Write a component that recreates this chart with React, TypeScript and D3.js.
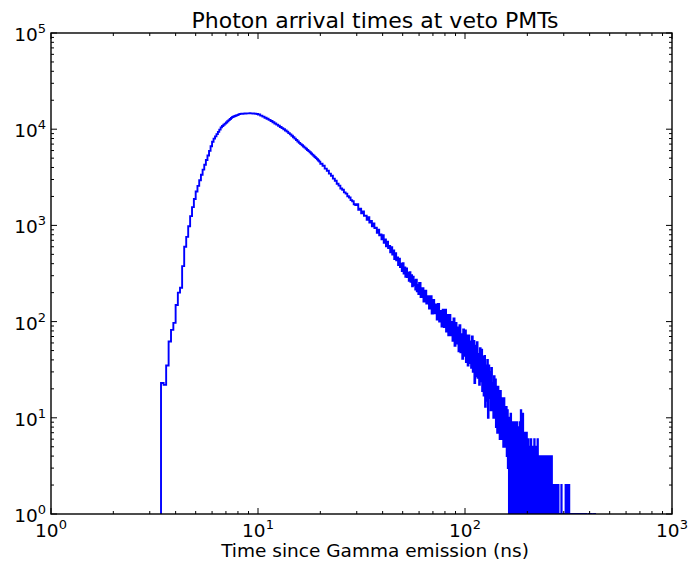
import React from 'react';
import * as d3 from 'd3';

// ---- Data (counts per bin) ----
const title = 'Photon arrival times at veto PMTs';
const xLabel = 'Time since Gamma emission (ns)';
const xTickExponents = [0, 1, 2, 3];
const yTickExponents = [0, 1, 2, 3, 4, 5];

// 3.4 – 10.0 ns, 0.1 ns bins
const fineStart = 3.4;
const fineWidth = 0.1;
const fineCounts = [
  23, 22, 35, 62, 82, 97,
  149, 200, 225, 377, 600, 760, 980, 1250, 1550, 1880,
  2249, 2573, 2950, 3365, 3800, 4265, 4788, 5335, 5950, 6640,
  7400, 7980, 8420, 8890, 9380, 9890, 10440, 10810, 11120, 11430,
  11750, 12080, 12420, 12770, 13120, 13390, 13550, 13700, 13860, 14020,
  14180, 14340, 14420, 14450, 14480, 14510, 14540, 14570, 14590, 14610,
  14620, 14630, 14620, 14600, 14580, 14550, 14520, 14480, 14440, 14400,
];

// 10 – 20 ns, 0.25 ns bins
const midStart = 10;
const midWidth = 0.25;
const midCounts = [
  14210, 13850, 13500, 13160, 12830, 12510, 12190, 11815, 11480, 11160,
  10845, 10545, 10260, 9980, 9710, 9445, 9110, 8835, 8540, 8255,
  7980, 7715, 7460, 7210, 6998, 6806, 6620, 6438, 6260, 6088,
  5921, 5758, 5598, 5444, 5295, 5149, 5007, 4868, 4735, 4605,
];

// 20 – 30 ns, 0.5 ns bins
const lateStart = 20;
const lateWidth = 0.5;
const lateCounts = [
  4380, 4170, 3890, 3700, 3455, 3285, 3060, 2915, 2710, 2590,
  2420, 2345, 2205, 2140, 2010, 1950, 1830, 1785, 1660, 1625,
];

// 30 – 60 ns, 0.5 ns bins
const noisyStart = 30;
const noisyWidth = 0.5;
const noisyCounts = [
  1665, 1455, 1490, 1332, 1396, 1260, 1265, 1143, 1219, 1071,
  1115, 976, 1048, 938, 948, 840, 901, 787, 804, 717,
  790, 660, 715, 605, 678, 582, 612, 526, 592, 498,
  548, 446, 515, 435, 465, 388, 452, 368, 401, 336,
  404, 316, 366, 293, 356, 290, 322, 265, 326, 259,
  304, 233, 293, 239, 270, 215, 272, 207, 240, 193,
];

// 60 – 330 ns, 1 ns bins
const tailStart = 60;
const tailWidth = 1;
const tailCounts = [
  252, 180, 222, 162, 210, 154, 184, 137, 184, 121,
  168, 122, 151, 105, 153, 100, 129, 89, 133, 88,
  133, 79, 117, 72, 117, 72, 99, 63, 108, 56,
  97, 59, 87, 49, 92, 48, 74, 41, 83, 44,
  81, 38, 72, 35, 72, 37, 62, 33, 70, 30,
  63, 23, 56, 27, 61, 26, 46, 22, 53, 24,
  51, 19, 43, 17, 44, 13, 35, 15, 40, 10,
  35, 16, 30, 12, 33, 12, 23, 10, 27, 10,
  25, 8, 21, 7, 21, 8, 17, 6, 19, 6,
  16, 6, 14, 5, 16, 5, 11, 5, 13, 4,
  12, 3, 10, 0, 9, 3, 11, 1, 8, 2,
  9, 0, 8, 1, 9, 0, 7, 1, 9, 0,
  8, 0, 7, 1, 9, 0, 12, 1, 8, 0,
  11, 0, 6, 1, 7, 0, 6, 0, 7, 1,
  5, 0, 6, 1, 4, 0, 5, 0, 6, 1,
  4, 0, 5, 1, 3, 0, 6, 0, 4, 1,
  5, 0, 3, 1, 6, 0, 4, 0, 3, 1,
  4, 0, 3, 1, 4, 0, 2, 0, 4, 1,
  3, 0, 2, 1, 4, 0, 3, 0, 2, 1,
  4, 0, 3, 0, 2, 1, 4, 0, 2, 1,
  3, 0, 4, 1, 0, 1, 0, 2, 0, 1,
  2, 0, 1, 2, 0, 1, 0, 2, 0, 1,
  0, 1, 2, 0, 1, 0, 1, 0, 1, 0,
  1, 0, 2, 0, 1, 0, 1, 0, 1, 0,
  1, 0, 1, 0, 1, 0, 2, 0, 1, 0,
  1, 0, 1, 2, 0, 1, 0, 1, 2, 0,
  1, 0, 1, 0, 0, 1, 0, 0, 1, 0,
];

// 330 – 430 ns, 5 ns bins
const farStart = 330;
const farWidth = 5;
const farCounts = [1, 0, 1, 1, 0, 1, 0, 1, 1, 0, 1, 0, 0, 1, 0, 1, 0, 0, 1, 0];

// ---- Layout ----
const W = 690;
const H = 563;
const L = 51;
const R = 672;
const T = 33;
const B = 514;
const TEXT_CX = 375;
const FONT = 'DejaVu Sans, Verdana, sans-serif';

type Bin = { x0: number; x1: number; c: number };
const toBins = (start: number, width: number, counts: number[]): Bin[] =>
  counts.map((c, i) => ({ x0: start + i * width, x1: start + (i + 1) * width, c }));

export default function App() {
  const x = d3.scaleLog().domain([1, 1000]).range([L, R]);
  const y = d3.scaleLog().domain([1, 1e5]).range([B, T]);

  const bins: Bin[] = [
    ...toBins(fineStart, fineWidth, fineCounts),
    ...toBins(midStart, midWidth, midCounts),
    ...toBins(lateStart, lateWidth, lateCounts),
    ...toBins(noisyStart, noisyWidth, noisyCounts),
    ...toBins(tailStart, tailWidth, tailCounts),
    ...toBins(farStart, farWidth, farCounts),
  ];
  const floor = 0.3;
  const pts: [number, number][] = [];
  pts.push([bins[0].x0, floor]);
  for (const b of bins) {
    const v = Math.max(b.c, floor);
    pts.push([b.x0, v]);
    pts.push([b.x1, v]);
  }
  pts.push([bins[bins.length - 1].x1, floor]);
  const line = d3
    .line<[number, number]>()
    .x((d) => x(d[0]))
    .y((d) => y(d[1]));
  const pathD = line(pts) || '';

  const xMajor = xTickExponents.map((e) => Math.pow(10, e));
  const yMajor = yTickExponents.map((e) => Math.pow(10, e));
  const xMinor: number[] = [];
  for (let k = 0; k < 3; k++) for (let m = 2; m <= 9; m++) xMinor.push(m * Math.pow(10, k));
  const yMinor: number[] = [];
  for (let k = 0; k < 5; k++) for (let m = 2; m <= 9; m++) yMinor.push(m * Math.pow(10, k));

  const majorLen = 6;
  const minorLen = 3;

  return (
    <svg
      width={W}
      height={H}
      style={{ position: 'absolute', left: 0, top: 0, background: '#fff' }}
      fontFamily={FONT}
    >
      <rect x={0} y={0} width={W} height={H} fill="#fff" />
      <defs>
        <clipPath id="plotClip">
          <rect x={L} y={T} width={R - L} height={B - T} />
        </clipPath>
      </defs>

      <path
        d={pathD}
        fill="none"
        stroke="#0000ff"
        strokeWidth={1.9}
        strokeLinejoin="miter"
        clipPath="url(#plotClip)"
      />

      {/* ticks */}
      <g stroke="#000" strokeWidth={1}>
        {xMajor.map((v) => (
          <g key={'xM' + v}>
            <line x1={x(v)} x2={x(v)} y1={B} y2={B - majorLen} />
            <line x1={x(v)} x2={x(v)} y1={T} y2={T + majorLen} />
          </g>
        ))}
        {xMinor.map((v) => (
          <g key={'xm' + v}>
            <line x1={x(v)} x2={x(v)} y1={B} y2={B - minorLen} />
            <line x1={x(v)} x2={x(v)} y1={T} y2={T + minorLen} />
          </g>
        ))}
        {yMajor.map((v) => (
          <g key={'yM' + v}>
            <line x1={L} x2={L + majorLen} y1={y(v)} y2={y(v)} />
            <line x1={R} x2={R - majorLen} y1={y(v)} y2={y(v)} />
          </g>
        ))}
        {yMinor.map((v) => (
          <g key={'ym' + v}>
            <line x1={L} x2={L + minorLen} y1={y(v)} y2={y(v)} />
            <line x1={R} x2={R - minorLen} y1={y(v)} y2={y(v)} />
          </g>
        ))}
      </g>

      {/* spines */}
      <rect x={L} y={T} width={R - L} height={B - T} fill="none" stroke="#000" strokeWidth={1.4} />

      {/* x tick labels */}
      {xTickExponents.map((e) => (
        <text key={'xl' + e} x={x(Math.pow(10, e))} y={B + 23} textAnchor="middle" fontSize={18.5} fill="#000">
          10
          <tspan dy={-8} fontSize={13}>
            {e}
          </tspan>
        </text>
      ))}

      {/* y tick labels */}
      {yTickExponents.map((e) => (
        <text key={'yl' + e} x={L - 5} y={y(Math.pow(10, e)) + 8} textAnchor="end" fontSize={18.5} fill="#000">
          10
          <tspan dy={-8} fontSize={13}>
            {e}
          </tspan>
        </text>
      ))}

      <text x={TEXT_CX} y={28} textAnchor="middle" fontSize={22} fill="#000">
        {title}
      </text>
      <text x={TEXT_CX} y={557} textAnchor="middle" fontSize={18.5} fill="#000">
        {xLabel}
      </text>
    </svg>
  );
}
